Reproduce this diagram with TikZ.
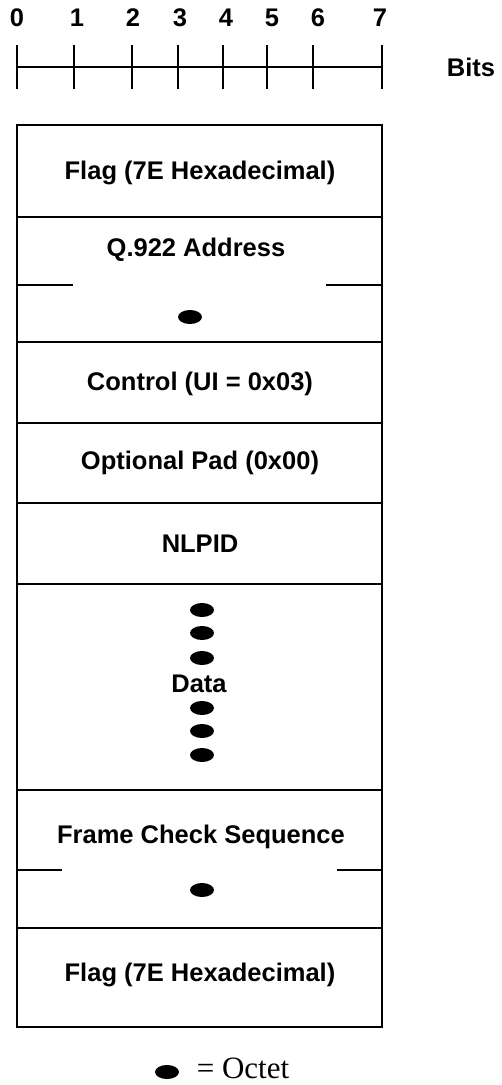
\documentclass[tikz,border=0pt]{standalone}
\usepackage{fontspec}
\setmainfont{Liberation Sans}
\newfontfamily\octetfont{Liberation Serif}
\usetikzlibrary{shapes.geometric}

\begin{document}
\begin{tikzpicture}[x=1pt,y=-1pt,
	lbl/.style={font=\fontsize{25.5}{29}\selectfont\bfseries, inner sep=0pt},
	octet/.style={ellipse, fill=black, minimum width=24pt, minimum height=14pt, inner sep=0pt},
	rule/.style={black, line width=1.8pt}]
				\useasboundingbox (0,0) rectangle (502,1085);
				% Bit ruler
				\node[lbl] (n0) at (17,18){0};
				\node[lbl] (n1) at (77,18){1};
				\node[lbl] (n2) at (133,18){2};
				\node[lbl] (n3) at (180,18){3};
				\node[lbl] (n4) at (226,18){4};
				\node[lbl] (n5) at (272,18){5};
				\node[lbl] (n6) at (318,18){6};
				\node[lbl] (n7) at (380,18){7};
				\node[lbl] (bits) at (471,67){Bits};
				\draw[rule] (17,67)--(382,67);
				\draw[rule] (17,45)--(17,89);
				\draw[rule] (74,45)--(74,89);
				\draw[rule] (132,45)--(132,89);
				\draw[rule] (178,45)--(178,89);
				\draw[rule] (223,45)--(223,89);
				\draw[rule] (267,45)--(267,89);
				\draw[rule] (313,45)--(313,89);
				\draw[rule] (382,45)--(382,89);
				% Frame
				\draw[rule] (17,125) rectangle (382,1027);
				\draw[rule] (17,217)--(382,217);
				\draw[rule] (17,342)--(382,342);
				\draw[rule] (17,423)--(382,423);
				\draw[rule] (17,503)--(382,503);
				\draw[rule] (17,584)--(382,584);
				\draw[rule] (17,790)--(382,790);
				\draw[rule] (17,928)--(382,928);
				\draw[rule] (17,285)--(73,285);
				\draw[rule] (326,285)--(382,285);
				\draw[rule] (17,870)--(62,870);
				\draw[rule] (337,870)--(382,870);
				\node[lbl] (flagA) at (200,173){Flag (7E Hexadecimal)};
				\node[lbl] (addr) at (196,250){Q.922 Address};
				\node[octet] (oA) at (190,317){};
				\node[lbl] (ctrl) at (200,384){Control (UI = 0x03)};
				\node[lbl] (pad) at (200,463){Optional Pad (0x00)};
				\node[lbl] (nlpid) at (200,544){NLPID};
				\node[octet] (d1) at (202,610){};
				\node[octet] (d2) at (202,633){};
				\node[octet] (d3) at (202,658){};
				\node[lbl] (data) at (199,684){Data};
				\node[octet] (d4) at (202,708){};
				\node[octet] (d5) at (202,731){};
				\node[octet] (d6) at (202,755){};
				\node[lbl] (fcs) at (201,837){Frame Check Sequence};
				\node[octet] (oB) at (202,890){};
				\node[lbl] (flagB) at (200,975){Flag (7E Hexadecimal)};
				% Legend
				\node[octet] (key) at (167,1072){};
				\node[font=\octetfont\fontsize{31}{35}\selectfont, inner sep=0pt] (keytext) at (243,1068){= Octet};
\end{tikzpicture}
\end{document}
